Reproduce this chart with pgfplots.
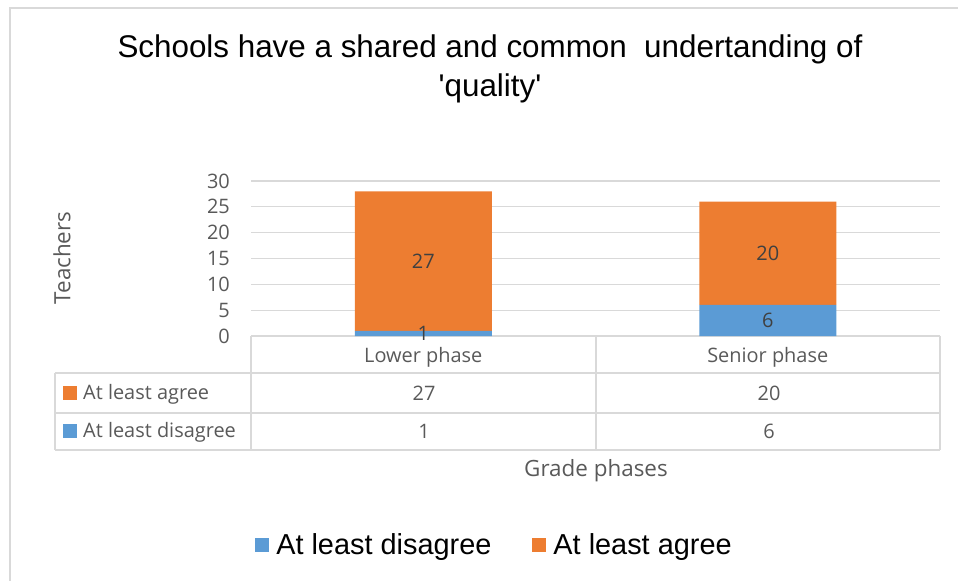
\documentclass[border=0pt]{standalone}
\usepackage{pgfplots}
\pgfplotsset{compat=1.18}
\usepackage{fontspec}
\setmainfont{Open Sans}
\newfontfamily\arial{Liberation Sans}
\definecolor{cblue}{HTML}{5B9BD5}
\definecolor{corange}{HTML}{ED7D31}
\definecolor{tgray}{HTML}{595959}
\definecolor{lgray}{HTML}{D9D9D9}
\newcommand{\fs}{\fontsize{20}{24}\selectfont}
\newcommand{\fl}{\fontsize{22.5}{27}\selectfont}
\begin{document}
\begin{tikzpicture}
\begin{axis}[
  at={(251bp,245bp)}, anchor=south west,
  scale only axis, width=689bp, height=155bp,
  ybar stacked, bar width=137bp,
  xmin=-0.5, xmax=1.5, ymin=0, ymax=30,
  enlargelimits=false, clip=false,
  xtick={0,1}, xticklabels={Lower phase, Senior phase},
  ytick={0,5,...,30},
  axis lines*=left,
  y axis line style={draw=none},
  x axis line style={lgray, line width=1.3bp},
  major tick length=0pt,
  ymajorgrids, major grid style={lgray, line width=1.3bp},
  /pgf/number format/assume math mode=true,
  yticklabel style={font=\fs, text=tgray, anchor=east, inner sep=0pt, xshift=-21bp},
  xticklabel style={font=\fs, text=tgray, anchor=base, inner sep=0pt, yshift=-26bp},
  ylabel={Teachers},
  ylabel style={font=\fl, text=tgray, at={(axis description cs:-0.2743,0.503)}, rotate=0, anchor=center},
  xlabel={Grade phases},
  xlabel style={font=\fl, text=tgray, at={(axis description cs:0.5007,-0.871)}, anchor=center},
  legend columns=2,
  legend style={at={(0.3534,-1.348)}, anchor=center, draw=none, fill=none,
    font=\arial\fontsize{29}{34}\selectfont,
    /tikz/every odd column/.append style={column sep=5bp},
    /tikz/every even column/.append style={column sep=39bp}},
  legend image code/.code={\fill[#1] (0bp,-7bp) rectangle (14bp,7bp);},
]
\addplot[fill=cblue, draw=none] coordinates {(0,1) (1,6)};
\addlegendentry{At least disagree}
\addplot[fill=corange, draw=none] coordinates {(0,27) (1,20)};
\addlegendentry{At least agree}
\end{axis}
\begin{axis}[
  at={(251bp,245bp)}, anchor=south west,
  scale only axis, width=689bp, height=155bp,
  xmin=-0.5, xmax=1.5, ymin=0, ymax=30,
  enlargelimits=false, clip=false, hide axis,
]
\addplot[only marks, mark=none, nodes near coords, point meta=explicit symbolic,
  every node near coord/.append style={anchor=center, font=\fs, text=black!75}]
  coordinates {(0,0.5)[1] (0,14.5)[27] (1,3)[6] (1,16)[20]};
\end{axis}
\begin{scope}[x=1bp, y=-1bp, yshift=581bp]
  \draw[lgray, line width=1.5bp] (10,581) -- (10,8) -- (958,8);
  \draw[lgray, line width=1.3bp]
    (55,373) -- (940,373) (55,413) -- (940,413) (55,450) -- (940,450)
    (55,373) -- (55,450) (251,336) -- (251,450) (596,336) -- (596,450) (940,336) -- (940,450);
  \fill[corange] (63,386) rectangle (77,400);
  \fill[cblue] (63,424) rectangle (77,438);
  \node[font=\fs, text=tgray, anchor=west, inner sep=0pt] at (83,394) {At least agree};
  \node[font=\fs, text=tgray, anchor=west, inner sep=0pt] at (83,432) {At least disagree};
  \node[font=\fs, text=tgray] at (424,393) {27};
  \node[font=\fs, text=tgray] at (769,393) {20};
  \node[font=\fs, text=tgray] at (424,431) {1};
  \node[font=\fs, text=tgray] at (769,431) {6};
  \node[font=\arial\fontsize{31.5}{39}\selectfont, align=center] at (490,69)
    {Schools have a shared and common\ \ undertanding of\\\textquotesingle quality\textquotesingle};
\end{scope}
\pgfresetboundingbox
\path[use as bounding box] (0,0) rectangle (958bp,581bp);
\end{tikzpicture}
\end{document}
